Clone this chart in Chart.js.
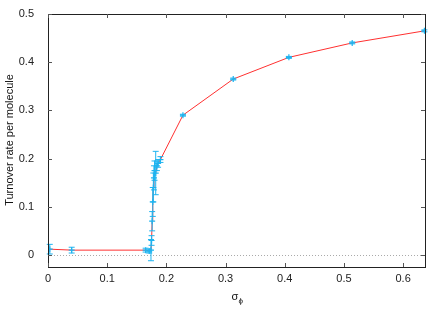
<!DOCTYPE html>
<html>
<head>
<meta charset="utf-8">
<script src="https://cdn.jsdelivr.net/npm/chart.js@4"></script>
<style>
  html, body { margin: 0; padding: 0; background: #fff; }
  #wrap { width: 436px; height: 314px; }
</style>
</head>
<body>
<div id="wrap"><canvas id="turnover"></canvas></div>
<script>
// data
let sigma = [0.003, 0.040, 0.165, 0.171, 0.174, 0.175, 0.176, 0.177, 0.178, 0.179, 0.180, 0.182, 0.184, 0.186, 0.190, 0.228, 0.313, 0.407, 0.514, 0.636];
let rate  = [0.012, 0.010, 0.010, 0.008, 0.010, 0.030, 0.070, 0.110, 0.140, 0.160, 0.175, 0.170, 0.185, 0.190, 0.198, 0.290, 0.365, 0.410, 0.440, 0.465];
let rateErr = [0.010, 0.006, 0.004, 0.004, 0.022, 0.010, 0.020, 0.030, 0.030, 0.025, 0.020, 0.045, 0.010, 0.008, 0.006, 0.002, 0.002, 0.002, 0.002, 0.002];
let xTicks = [0, 0.1, 0.2, 0.3, 0.4, 0.5, 0.6];
let yTicks = [0, 0.1, 0.2, 0.3, 0.4, 0.5];

let blue = '#1eb4f0';
let red = '#ff3030';
let font = 'Liberation Sans, Arial, sans-serif';

let points = sigma.map((s, i) => ({ x: s, y: rate[i] }));

// error bars, zero line, frame with inward ticks, axis titles
let decor = {
  id: 'decor',
  beforeDatasetsDraw(chart) {
    let ctx = chart.ctx, a = chart.chartArea;
    let y0 = chart.scales.y.getPixelForValue(0);
    ctx.save();
    ctx.strokeStyle = '#aaa';
    ctx.lineWidth = 1;
    ctx.setLineDash([1, 2]);
    ctx.beginPath();
    ctx.moveTo(a.left, Math.round(y0) + 0.5);
    ctx.lineTo(a.right, Math.round(y0) + 0.5);
    ctx.stroke();
    ctx.restore();
  },
  afterDatasetsDraw(chart) {
    let ctx = chart.ctx, xs = chart.scales.x, ys = chart.scales.y;
    ctx.save();
    ctx.strokeStyle = blue;
    ctx.lineWidth = 1;
    for (let i = 0; i < sigma.length; i++) {
      let px = xs.getPixelForValue(sigma[i]);
      let lo = ys.getPixelForValue(rate[i] - rateErr[i]);
      let hi = ys.getPixelForValue(rate[i] + rateErr[i]);
      ctx.beginPath();
      ctx.moveTo(px, lo); ctx.lineTo(px, hi);
      ctx.moveTo(px - 3, lo); ctx.lineTo(px + 3, lo);
      ctx.moveTo(px - 3, hi); ctx.lineTo(px + 3, hi);
      ctx.stroke();
    }
    ctx.restore();
  },
  afterDraw(chart) {
    let ctx = chart.ctx, a = chart.chartArea, xs = chart.scales.x, ys = chart.scales.y;
    ctx.save();
    ctx.strokeStyle = '#222';
    ctx.lineWidth = 1;
    ctx.strokeRect(Math.round(a.left) + 0.5, Math.round(a.top) + 0.5,
                   Math.round(a.right - a.left), Math.round(a.bottom - a.top));
    ctx.strokeStyle = '#555';
    ctx.beginPath();
    xTicks.forEach(v => {
      let px = Math.round(xs.getPixelForValue(v)) + 0.5;
      ctx.moveTo(px, a.bottom); ctx.lineTo(px, a.bottom - 4);
      ctx.moveTo(px, a.top); ctx.lineTo(px, a.top + 4);
    });
    yTicks.forEach(v => {
      let py = Math.round(ys.getPixelForValue(v)) + 0.5;
      ctx.moveTo(a.left, py); ctx.lineTo(a.left + 4, py);
      ctx.moveTo(a.right, py); ctx.lineTo(a.right - 4, py);
    });
    ctx.stroke();

    // axis titles
    ctx.fillStyle = '#111';
    ctx.font = '11px ' + font;
    ctx.textAlign = 'center';
    ctx.textBaseline = 'middle';
    ctx.save();
    ctx.translate(10, 140);
    ctx.rotate(-Math.PI / 2);
    ctx.fillText('Turnover rate per molecule', 0, 0);
    ctx.restore();
    let cx = (a.left + a.right) / 2;
    ctx.textAlign = 'left';
    ctx.fillText('σ', cx - 5, 297);
    ctx.font = '8px ' + font;
    ctx.fillText('ϕ', cx + 2, 301);
    ctx.restore();
  }
};

let ctx = document.getElementById('turnover').getContext('2d');
let myChart = new Chart(ctx, {
  type: 'line',
  data: {
    datasets: [{
      data: points,
      borderColor: red,
      borderWidth: 1,
      pointStyle: 'cross',
      pointRadius: 3,
      pointBorderColor: blue,
      pointBorderWidth: 1.2,
      pointBackgroundColor: blue,
      tension: 0,
      fill: false
    }]
  },
  options: {
    responsive: true,
    maintainAspectRatio: false,
    animation: false,
    layout: { padding: { left: 0, right: 11, top: 14, bottom: 0 } },
    plugins: {
      legend: { display: false },
      tooltip: { enabled: false }
    },
    scales: {
      x: {
        type: 'linear',
        min: 0,
        max: 0.637,
        grid: { display: false, drawTicks: false },
        border: { display: false },
        afterBuildTicks: s => { s.ticks = xTicks.map(v => ({ value: v })); },
        afterFit: s => { s.height = 47; },
        ticks: {
          color: '#222',
          font: { family: font, size: 11 },
          padding: 5,
          maxRotation: 0,
          callback: v => String(v)
        }
      },
      y: {
        min: -0.025,
        max: 0.5,
        grid: { display: false },
        border: { display: false },
        afterBuildTicks: s => { s.ticks = yTicks.map(v => ({ value: v })); },
        afterFit: s => { s.width = 48; },
        ticks: {
          color: '#222',
          font: { family: font, size: 11 },
          padding: 6,
          callback: v => String(v)
        }
      }
    }
  },
  plugins: [decor]
});
</script>
</body>
</html>
